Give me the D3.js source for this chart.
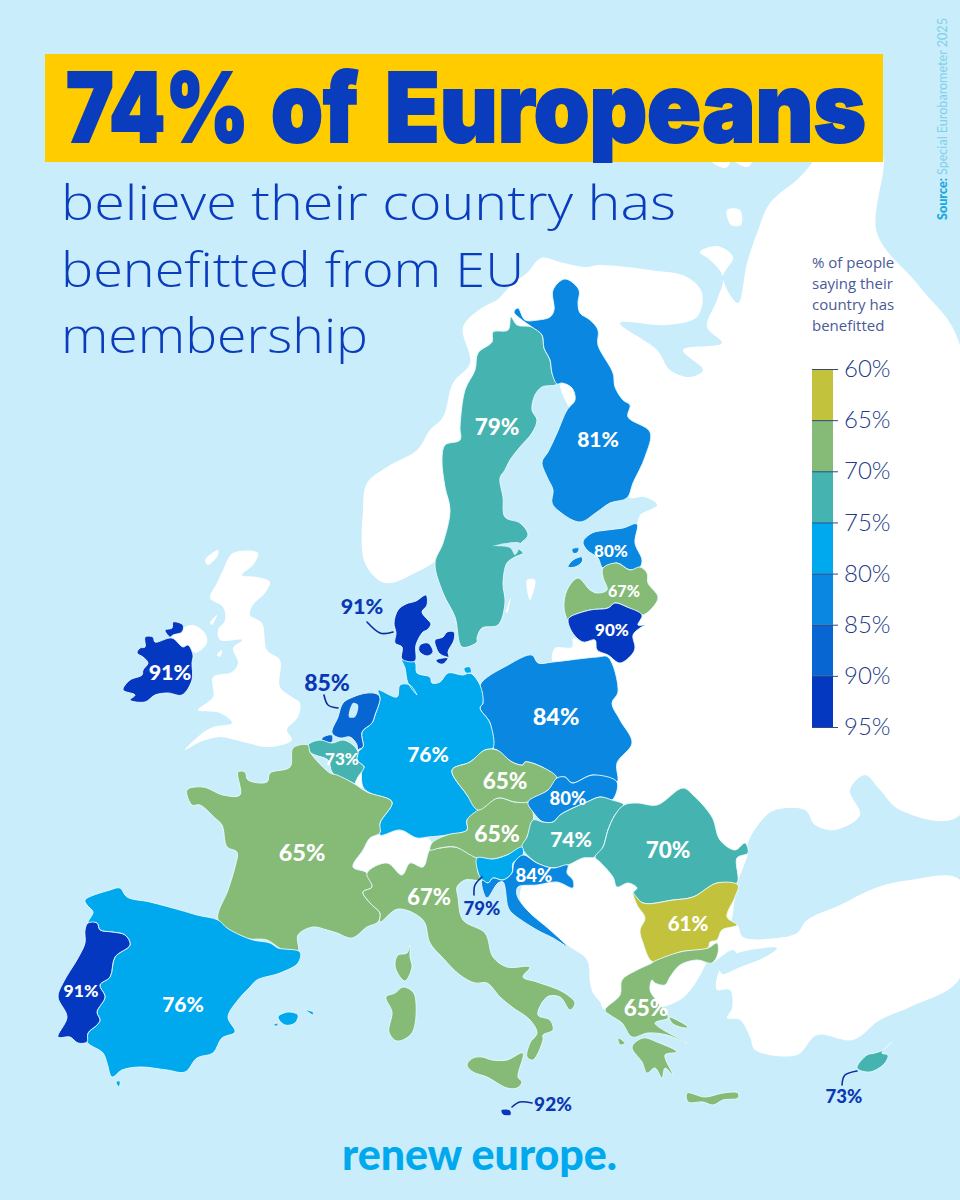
<!DOCTYPE html>
<html>
<head>
<meta charset="utf-8">
<script src="https://cdn.jsdelivr.net/npm/d3@7"></script>
<style>
  html, body { margin: 0; padding: 0; background: #c9edfa; }
  svg { display: block; }
</style>
</head>
<body>
<div id="chart"></div>
<script>
// Survey values
const countries = ["Sweden", "Finland", "Estonia", "Latvia", "Lithuania", "Poland", "Germany", "Denmark",
  "Netherlands", "Belgium", "Ireland", "France", "Spain", "Portugal", "Italy", "Austria", "Czechia",
  "Slovakia", "Hungary", "Romania", "Bulgaria", "Greece", "Slovenia", "Croatia", "Malta", "Cyprus"];
const benefitted = [79, 81, 80, 67, 90, 84, 76, 91, 85, 73, 91, 65, 76, 91, 67, 65, 65, 80, 74, 70, 61, 65, 79, 84, 92, 73];

// Legend
const legendTicks = [60, 65, 70, 75, 80, 85, 90, 95];
const bandColors = ["#c2c23c", "#85ba77", "#45b4b0", "#00a8ee", "#0a87e0", "#0766d2", "#0438c0"];
const legendTitle = ["% of people", "saying their", "country has", "benefitted"];
const headlineWords = ["74%", "of", "Europeans"];
const subtitleLines = ["believe their country has", "benefitted from EU", "membership"];

// Outlines, in page coordinates
const outlines = {
  Sweden: [[[511,317],[517,325],[532,327],[542,335],[544,348],[550,360],[552,373],[557,384],[542,387],[535,395],[532,410],[537,420],[532,433],[520,447],[510,460],[505,470],[500,478],[503,497],[505,517],[520,523],[528,535],[518,547],[523,553],[515,557],[507,563],[503,583],[505,603],[498,625],[482,628],[477,638],[477,642],[462,647],[455,617],[443,593],[435,563],[443,543],[450,510],[445,487],[442,460],[445,445],[460,440],[460,427],[465,390],[475,370],[478,353],[492,342],[493,332],[508,330]]],
  Finland: [[[565,279],[579,290],[578,303],[580,313],[590,320],[598,330],[598,345],[613,373],[615,387],[623,400],[630,405],[628,417],[650,432],[645,457],[633,483],[627,498],[610,503],[597,512],[580,522],[560,512],[552,503],[553,490],[547,477],[542,462],[548,452],[557,433],[567,410],[575,400],[572,388],[562,383],[557,384],[552,373],[550,360],[544,348],[542,335],[532,327],[522,320],[514,312],[518,308],[525,320],[538,320],[550,317],[554,310],[553,290]]],
  Estonia: [[[637,524],[635,543],[642,560],[640,567],[630,570],[617,563],[603,568],[598,558],[587,550],[583,542],[592,533],[607,530],[623,528]],
    [[568,567],[573,560],[582,557],[582,562],[575,567]],
    [[572,549],[579,548],[577,553],[573,553]]],
  Latvia: [[[603,568],[617,563],[630,570],[640,567],[647,573],[648,583],[658,597],[653,607],[642,615],[627,607],[615,603],[608,608],[590,610],[570,617],[568,620],[564,608],[567,590],[578,578],[590,590],[597,593],[607,590],[603,577]]],
  Lithuania: [[[642,615],[638,625],[645,625],[640,628],[633,635],[635,647],[633,653],[620,663],[608,655],[597,650],[595,640],[583,642],[572,632],[568,620],[570,617],[590,610],[608,608],[615,603],[627,607]]],
  Poland: [[[608,657],[618,692],[612,703],[620,720],[632,743],[617,763],[617,782],[593,775],[572,783],[565,777],[557,778],[542,767],[525,762],[523,765],[512,762],[497,750],[493,748],[490,723],[480,708],[483,703],[480,685],[508,665],[532,655],[538,663],[553,662],[597,657]]],
  Germany: [[[402,659],[415,662],[417,673],[430,677],[432,683],[440,682],[448,673],[463,675],[470,673],[480,685],[483,703],[480,708],[490,723],[493,748],[485,750],[470,762],[452,770],[467,795],[478,810],[467,820],[467,830],[447,835],[428,837],[417,838],[400,830],[380,835],[380,823],[392,802],[370,793],[363,787],[362,770],[364,767],[357,760],[358,752],[363,747],[362,732],[372,723],[375,715],[380,698],[378,690],[397,697],[400,685],[410,685],[417,695],[408,683],[405,668]],
    [[464,668],[470,667],[471,673],[466,673]]],
  Denmark: [[[426,595],[427,605],[422,612],[428,620],[431,624],[427,630],[423,632],[416,645],[415,661],[402,659],[402,647],[395,643],[396,633],[394,623],[398,610],[406,604],[416,601]],
    [[420,645],[428,643],[433,652],[427,656],[419,651]],
    [[435,640],[443,637],[447,632],[454,632],[454,640],[448,652],[449,657],[440,654],[436,647]],
    [[436,660],[448,658],[443,664],[438,663]]],
  Netherlands: [[[377,694],[380,698],[375,715],[372,723],[362,732],[363,747],[358,750],[357,757],[357,745],[350,737],[340,738],[332,733],[338,717],[343,703],[353,697],[367,693]],
    [[322,738],[332,735],[332,742],[323,743]]],
  Belgium: [[[308,745],[320,740],[332,743],[343,740],[353,745],[358,752],[357,760],[364,767],[358,777],[355,785],[358,787],[353,783],[340,778],[332,772],[328,760],[315,755],[310,752]]],
  Ireland: [[[145,637],[153,637],[155,642],[172,638],[183,647],[188,645],[193,655],[192,663],[192,680],[182,695],[168,693],[155,695],[145,702],[130,700],[135,695],[123,690],[130,680],[142,675],[143,670],[148,663],[143,657],[137,653],[140,648],[145,647]],
    [[165,630],[172,628],[173,622],[183,625],[182,632],[173,635],[170,637]]],
  France: [[[293,748],[308,745],[310,752],[330,773],[337,775],[353,783],[367,792],[392,802],[380,823],[380,833],[370,838],[363,850],[353,867],[367,873],[372,887],[363,892],[370,903],[380,913],[378,922],[367,927],[352,938],[337,933],[327,930],[313,927],[298,935],[298,952],[283,950],[267,940],[243,938],[218,920],[228,890],[235,867],[237,852],[227,847],[222,825],[215,818],[200,805],[192,805],[187,790],[203,787],[223,795],[240,795],[238,772],[245,772],[248,780],[267,782],[270,773],[290,767]],
    [[410,945],[410,957],[412,967],[405,981],[397,972],[395,963],[398,955],[407,953]]],
  Spain: [[[85,900],[110,890],[120,888],[127,897],[150,902],[180,910],[197,915],[218,920],[227,928],[240,935],[253,940],[270,943],[278,948],[300,952],[298,963],[280,973],[257,980],[250,987],[238,1000],[228,1017],[235,1032],[222,1038],[213,1053],[197,1058],[185,1072],[167,1070],[140,1067],[122,1070],[112,1077],[107,1063],[103,1053],[87,1042],[88,1033],[97,1025],[100,1020],[97,1012],[105,997],[100,985],[110,977],[115,957],[130,945],[125,935],[112,932],[100,930],[97,923],[88,923],[93,912],[87,905]],
    [[278,1017],[288,1012],[298,1015],[295,1023],[285,1025]],
    [[305,1010],[313,1012],[313,1015],[308,1012]],
    [[273,1025],[278,1023],[277,1026]],
    [[116,1082],[120,1081],[119,1087]]],
  Portugal: [[[88,923],[97,923],[100,930],[112,932],[125,935],[130,945],[115,957],[110,977],[100,985],[105,997],[97,1012],[100,1020],[97,1025],[88,1033],[87,1042],[78,1043],[70,1037],[58,1037],[67,1017],[58,997],[63,983],[78,958],[85,943],[85,930]]],
  Italy: [[[367,873],[372,887],[363,892],[370,903],[380,913],[380,922],[398,909],[423,920],[430,943],[442,957],[460,975],[475,983],[487,983],[500,997],[512,1007],[530,1020],[537,1033],[530,1043],[527,1057],[533,1060],[543,1040],[543,1035],[553,1030],[550,1020],[538,1015],[547,997],[560,997],[570,1010],[575,1003],[563,992],[537,982],[523,977],[530,967],[507,967],[493,957],[485,933],[463,920],[458,897],[457,887],[465,880],[482,880],[478,872],[477,858],[455,847],[440,848],[430,850],[423,867],[410,863],[402,875],[387,863]],
    [[403,987],[413,992],[416,1003],[412,1033],[397,1041],[389,1032],[392,1012],[386,997],[395,993]],
    [[467,1065],[473,1058],[482,1057],[492,1060],[507,1060],[523,1053],[518,1077],[522,1082],[517,1088],[507,1088],[487,1077],[473,1072]]],
  Austria: [[[467,820],[478,810],[498,798],[515,802],[528,802],[533,812],[533,822],[527,837],[522,847],[507,855],[493,859],[477,858],[455,847],[440,848],[430,850],[432,843],[447,835],[467,830]]],
  Czechia: [[[452,770],[470,762],[485,750],[497,750],[512,762],[523,765],[525,762],[542,767],[557,778],[548,790],[528,802],[515,802],[498,798],[478,810],[467,795]]],
  Slovakia: [[[557,778],[565,777],[572,783],[593,775],[617,782],[612,800],[600,797],[587,802],[573,808],[560,815],[553,822],[543,822],[533,812],[528,802],[548,790]]],
  Hungary: [[[533,820],[543,822],[553,822],[560,815],[573,808],[587,802],[600,797],[612,800],[624,805],[615,815],[608,830],[603,847],[595,857],[583,858],[568,865],[553,868],[537,863],[522,847],[527,837]]],
  Romania: [[[624,805],[637,803],[657,805],[683,788],[693,795],[712,817],[720,840],[735,850],[745,843],[748,853],[737,858],[737,883],[717,883],[693,897],[673,900],[643,903],[633,893],[637,888],[628,883],[617,887],[613,877],[600,862],[595,857],[603,847],[608,830],[615,815]]],
  Bulgaria: [[[633,893],[643,903],[673,900],[693,897],[717,883],[738,885],[735,897],[727,917],[737,925],[722,930],[717,940],[710,942],[708,948],[680,952],[653,962],[643,943],[640,930],[645,918],[637,905]]],
  Greece: [[[653,962],[680,952],[708,948],[717,943],[718,953],[712,963],[697,960],[680,965],[670,977],[665,985],[655,983],[652,980],[650,990],[656,1000],[664,1010],[668,1018],[655,1023],[687,1043],[667,1035],[648,1033],[632,1037],[622,1023],[610,1015],[605,1010],[620,995],[622,980],[637,970],[652,963]],
    [[632,1047],[643,1038],[657,1042],[677,1052],[665,1055],[673,1075],[665,1068],[662,1078],[655,1068],[647,1073],[642,1062]],
    [[669,1017],[688,1027],[686,1028],[673,1024]],
    [[687,1093],[705,1097],[723,1093],[738,1093],[738,1098],[723,1100],[713,1105],[703,1102],[688,1102]],
    [[618,1038],[625,1043],[620,1045]]],
  Slovenia: [[[477,858],[493,859],[507,855],[522,847],[523,855],[513,863],[512,873],[503,880],[493,878],[488,883],[482,880],[478,872]]],
  Croatia: [[[514,863],[523,855],[537,863],[553,868],[568,865],[567,873],[573,880],[573,888],[557,882],[537,885],[518,887],[517,895],[527,910],[550,930],[568,947],[553,938],[537,930],[512,913],[508,907],[503,882],[498,883],[487,898],[482,887],[482,880],[488,883],[493,878],[503,880],[512,873]]],
  Malta: [[[501,1110],[510,1110],[511,1115],[503,1115]]],
  Cyprus: [[[892,1042],[883,1050],[875,1053],[867,1055],[857,1068],[870,1072],[885,1063],[888,1055],[882,1053]]]
};

// Land outside the survey, white under everything
const otherLand = [
  // Norway round to Russia, down to the Black Sea, Balkans
  [[605,1010],[600,1002],[593,993],[590,983],[587,960],[570,947],[540,925],[520,900],[525,880],[560,840],[580,780],[600,700],[590,660],[600,640],[610,600],[620,560],[637,524],
   [640,515],[657,505],[645,497],[628,497],[565,400],[550,360],[480,500],[440,557],[417,572],[385,583],[365,563],[363,510],[367,483],[387,467],[417,450],[430,430],[443,417],[453,383],[470,363],[463,327],[483,307],[497,300],[513,283],[527,273],[541,258],[560,262],[585,267],[600,265],[650,270],[687,277],[702,293],[697,317],[667,325],[620,323],[657,350],[670,370],[690,377],[703,370],[683,350],[722,343],[707,327],[717,300],[723,277],[710,260],[700,252],[717,246],[733,257],[723,277],[738,303],[747,263],[757,233],[770,203],[800,177],[813,160],[813,150],[880,150],[877,233],[920,287],[960,345],[960,815],[900,810],[880,790],[865,775],[850,790],[860,815],[835,830],[815,825],[805,810],[775,810],[762,820],[748,843],[748,853],[737,885],[730,925],[717,943],[680,1000]],
  // Britain, Northern Ireland, small isles
  [[233,553],[258,553],[253,565],[242,575],[257,577],[270,582],[265,593],[253,605],[250,615],[262,623],[267,650],[280,660],[280,687],[292,697],[300,703],[298,717],[287,730],[292,740],[270,747],[243,742],[220,737],[200,742],[185,750],[200,735],[213,727],[232,723],[220,713],[198,710],[213,697],[213,677],[232,672],[238,663],[233,648],[242,640],[220,640],[218,630],[225,620],[223,607],[210,598],[217,583],[223,570]],
  [[205,560],[218,550],[218,555],[208,565]],
  [[210,623],[217,615],[212,625]],
  [[217,655],[222,650],[220,657]],
  [[170,638],[182,628],[193,625],[205,633],[207,643],[195,653],[188,645],[183,647]],
  // Luxembourg, Switzerland, Kaliningrad
  [[358,777],[364,772],[367,785],[362,788],[355,785]],
  [[353,867],[363,850],[370,838],[380,833],[397,831],[420,833],[432,843],[430,850],[423,867],[410,863],[402,875],[387,863],[368,873]],
  [[553,662],[555,648],[572,647],[573,638],[583,642],[595,640],[597,650],[600,660]],
  // Turkey
  [[717,943],[722,930],[737,925],[743,937],[777,938],[797,933],[807,920],[840,905],[875,888],[910,880],[960,880],[960,978],[910,1007],[880,1020],[853,1040],[817,1035],[797,1055],[755,1050],[750,1037],[740,1020],[727,1018],[732,1008],[730,990],[717,990],[716,983],[720,970],[737,957],[733,950],[712,963],[718,953]],
  // Kolguev and bits under the banner
  [[727,210],[740,210],[741,225],[731,225]],
  [[712,162],[730,160],[726,168]],
  [[736,162],[752,160],[748,167]],
  // Gotland, Oland
  [[527,580],[535,580],[530,600]],
  [[511,597],[507,613],[506,612]]
];

// Water cut back into land
const inlandWater = [
  [[353,703],[358,705],[355,717],[349,717]],
  [[493,546],[520,543],[515,555],[510,548]],
  [[720,965],[733,955],[750,950],[777,948],[765,957],[738,968],[722,974]]
];

// Where the value labels sit: x, y, font size
const labelPlaces = {
  Sweden: [497, 427, 22.5], Finland: [598, 440, 21], Estonia: [611, 551, 17], Latvia: [624, 591, 16],
  Lithuania: [612, 630, 17], Poland: [556, 717, 23.5], Germany: [428, 755, 21], Denmark: [362, 606, 21.5],
  Netherlands: [327, 683, 23], Belgium: [342, 759, 17], Ireland: [170, 672, 21.5], France: [302, 853, 23.5],
  Spain: [183, 1005, 21], Portugal: [81, 991, 17.5], Italy: [429, 897, 22], Austria: [497, 834, 23],
  Czechia: [505, 781, 22.5], Slovakia: [568, 799, 18.5], Hungary: [571, 840, 21], Romania: [668, 850, 22.5],
  Bulgaria: [688, 924, 20.5], Greece: [646, 1008, 22.5], Slovenia: [482, 909, 18.5], Croatia: [534, 876, 18.5],
  Malta: [553, 1104, 19], Cyprus: [844, 1097, 18.5]
};
const outsideLabels = ["Denmark", "Netherlands", "Slovenia", "Malta", "Cyprus"];
const leaders = [
  [[367,622],[380,633],[393,632]],
  [[324,695],[328,705],[338,708]],
  [[474,895],[475,885],[482,877]],
  [[512,1107],[520,1102],[532,1103]],
  [[842,1085],[845,1075],[857,1071]]
];

const width = 960, height = 1200;
const svg = d3.select("#chart").append("svg").attr("width", width).attr("height", height);
svg.append("rect").attr("width", width).attr("height", height).attr("fill", "#c9edfa");

// Rings get a slight curve so the coasts do not read as straight cuts
const ring = d3.line().curve(d3.curveCatmullRomClosed.alpha(0.5));
const color = d3.scaleThreshold().domain(legendTicks.slice(1, -1)).range(bandColors);
const valueOf = new Map(countries.map((c, i) => [c, benefitted[i]]));
// The original prints Sweden's 79% in the 70-75 colour
const fillOf = c => c === "Sweden" ? color(74) : color(valueOf.get(c));

svg.append("g").selectAll("path")
  .data(otherLand)
  .join("path")
  .attr("d", ring)
  .attr("fill", "#fff");

svg.append("g").selectAll("path")
  .data(countries)
  .join("path")
  .attr("d", c => outlines[c].map(ring).join(""))
  .attr("fill", fillOf)
  .attr("stroke", "#eafaff")
  .attr("stroke-width", 0.9)
  .attr("stroke-linejoin", "round");

svg.append("g").selectAll("path")
  .data(inlandWater)
  .join("path")
  .attr("d", ring)
  .attr("fill", "#c9edfa");

// Leader lines for the small countries
const leaderLine = d3.line().curve(d3.curveNatural);
svg.append("g").selectAll("path")
  .data(leaders)
  .join("path")
  .attr("d", leaderLine)
  .attr("fill", "none")
  .attr("stroke", "#0a2f9e")
  .attr("stroke-width", 1.6)
  .attr("stroke-linecap", "round");

// Value labels
svg.append("g").selectAll("text")
  .data(countries)
  .join("text")
  .attr("x", c => labelPlaces[c][0])
  .attr("y", c => labelPlaces[c][1])
  .attr("dy", "0.35em")
  .attr("text-anchor", "middle")
  .attr("font-family", "Lato, sans-serif")
  .attr("font-weight", 900)
  .attr("font-size", c => labelPlaces[c][2])
  .attr("fill", c => outsideLabels.includes(c) ? "#0a38b4" : "#fff")
  .text(c => valueOf.get(c) + "%");

// Banner and headline, each word squeezed to its width on the original
svg.append("rect").attr("x", 45).attr("y", 54).attr("width", 838).attr("height", 108).attr("fill", "#ffcc00");
const headlineX = [66, 271, 385], headlineW = [183, 87, 481];
svg.append("g").selectAll("text")
  .data(headlineWords)
  .join("text")
  .attr("font-family", "Inter, sans-serif")
  .attr("font-weight", 900)
  .attr("font-size", 96)
  .attr("fill", "#0a3cbe")
  .attr("stroke", "#0a3cbe")
  .attr("stroke-width", 2)
  .text(d => d)
  .attr("transform", function (d, i) {
    const sx = headlineW[i] / this.getComputedTextLength();
    return `translate(${headlineX[i]},142) scale(${sx},1)`;
  });

const subtitleW = [615, 463, 307];
svg.append("g").selectAll("text")
  .data(subtitleLines)
  .join("text")
  .attr("x", 61)
  .attr("y", (d, i) => 220 + i * 66.5)
  .attr("font-family", "'Open Sans', sans-serif")
  .attr("font-weight", 300)
  .attr("font-size", 48)
  .attr("textLength", (d, i) => subtitleW[i])
  .attr("lengthAdjust", "spacingAndGlyphs")
  .attr("fill", "#0a3cbe")
  .text(d => d);

// Legend
svg.append("g").selectAll("text")
  .data(legendTitle)
  .join("text")
  .attr("x", 812)
  .attr("y", (d, i) => 268 + i * 21)
  .attr("font-family", "'Open Sans', sans-serif")
  .attr("font-size", 15)
  .attr("fill", "#4a5a96")
  .text(d => d);

const legendY = d3.scaleLinear().domain([60, 95]).range([369, 727]);
svg.append("g").selectAll("rect")
  .data(bandColors)
  .join("rect")
  .attr("x", 812)
  .attr("y", (d, i) => legendY(legendTicks[i]))
  .attr("width", 21)
  .attr("height", (d, i) => legendY(legendTicks[i + 1]) - legendY(legendTicks[i]))
  .attr("fill", d => d);

const legendAxis = svg.append("g")
  .attr("transform", "translate(812,0)")
  .call(d3.axisRight(legendY).tickValues(legendTicks).tickSize(26).tickPadding(6).tickFormat(d => d + "%"));
legendAxis.select(".domain").remove();
legendAxis.selectAll("line").attr("stroke", "#2f4a7f").attr("stroke-width", 1);
legendAxis.selectAll("text")
  .attr("font-family", "Lato, sans-serif")
  .attr("font-weight", 300)
  .attr("font-size", 24)
  .attr("fill", "#233a86");

// Source, rotated along the right edge
const source = svg.append("text")
  .attr("transform", "translate(947,220) rotate(-90)")
  .attr("font-family", "Lato, sans-serif")
  .attr("font-size", 12.6);
source.append("tspan").attr("font-weight", 900).attr("fill", "#18a8e0").text("Source: ");
source.append("tspan").attr("fill", "#7fd0ea").text("Special Eurobarometer 2025");

// Wordmark
svg.append("text")
  .attr("x", 342).attr("y", 1170)
  .attr("font-family", "Lato, sans-serif")
  .attr("font-weight", 900)
  .attr("font-size", 44)
  .attr("textLength", 275)
  .attr("lengthAdjust", "spacingAndGlyphs")
  .attr("fill", "#00a8ee")
  .text("renew europe.");
</script>
</body>
</html>
